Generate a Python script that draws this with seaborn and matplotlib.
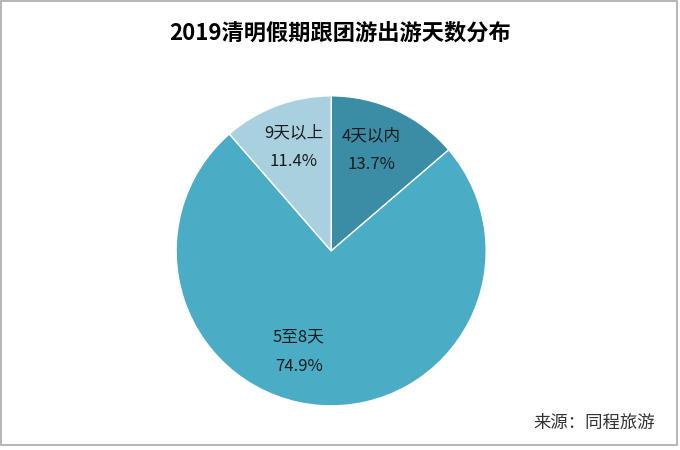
import matplotlib
matplotlib.use("Agg")
import matplotlib.pyplot as plt
import seaborn as sns
from matplotlib.patches import Rectangle

sns.set_theme(style="white")
plt.rcParams['font.family'] = ['Noto Sans CJK SC', 'DejaVu Sans']

categories = ["4天以内", "5至8天", "9天以上"]
values = [13.7, 74.9, 11.4]
pct_labels = ["13.7%", "74.9%", "11.4%"]
colors = ["#3A8DA4", "#4BACC6", "#A9D0DE"]
label_pos = [(0.26, 0.65), (-0.21, -0.65), (-0.24, 0.67)]

fig = plt.figure(figsize=(6.8, 4.5), dpi=100)
fig.patch.set_facecolor("white")
ax = fig.add_axes([0.259, 0.098, 0.456, 0.689])
wedges, _ = ax.pie(values, colors=colors, startangle=90, counterclock=False,
                   wedgeprops=dict(edgecolor="white", linewidth=1.0), radius=1.0)
ax.set_xlim(-1, 1)
ax.set_ylim(-1, 1)
ax.set_aspect("auto")
for cat, pct, (x, y) in zip(categories, pct_labels, label_pos):
    ax.text(x, y + 0.095, cat, ha="center", va="center", fontsize=12, color="#1a1a1a")
    ax.text(x, y - 0.095, pct, ha="center", va="center", fontsize=12, color="#1a1a1a")

fig.text(0.5, 0.927, "2019清明假期跟团游出游天数分布", ha="center", va="center",
         fontsize=16, fontweight="bold", color="black")
fig.text(0.963, 0.06, "来源：同程旅游", ha="right", va="center", fontsize=12.5, color="#333333")

fig.add_artist(Rectangle((0.002, 0.011), 0.993, 0.986, transform=fig.transFigure,
                         fill=False, edgecolor="#AAAAAA", linewidth=1.2))
fig.savefig("out.png", dpi=100)
